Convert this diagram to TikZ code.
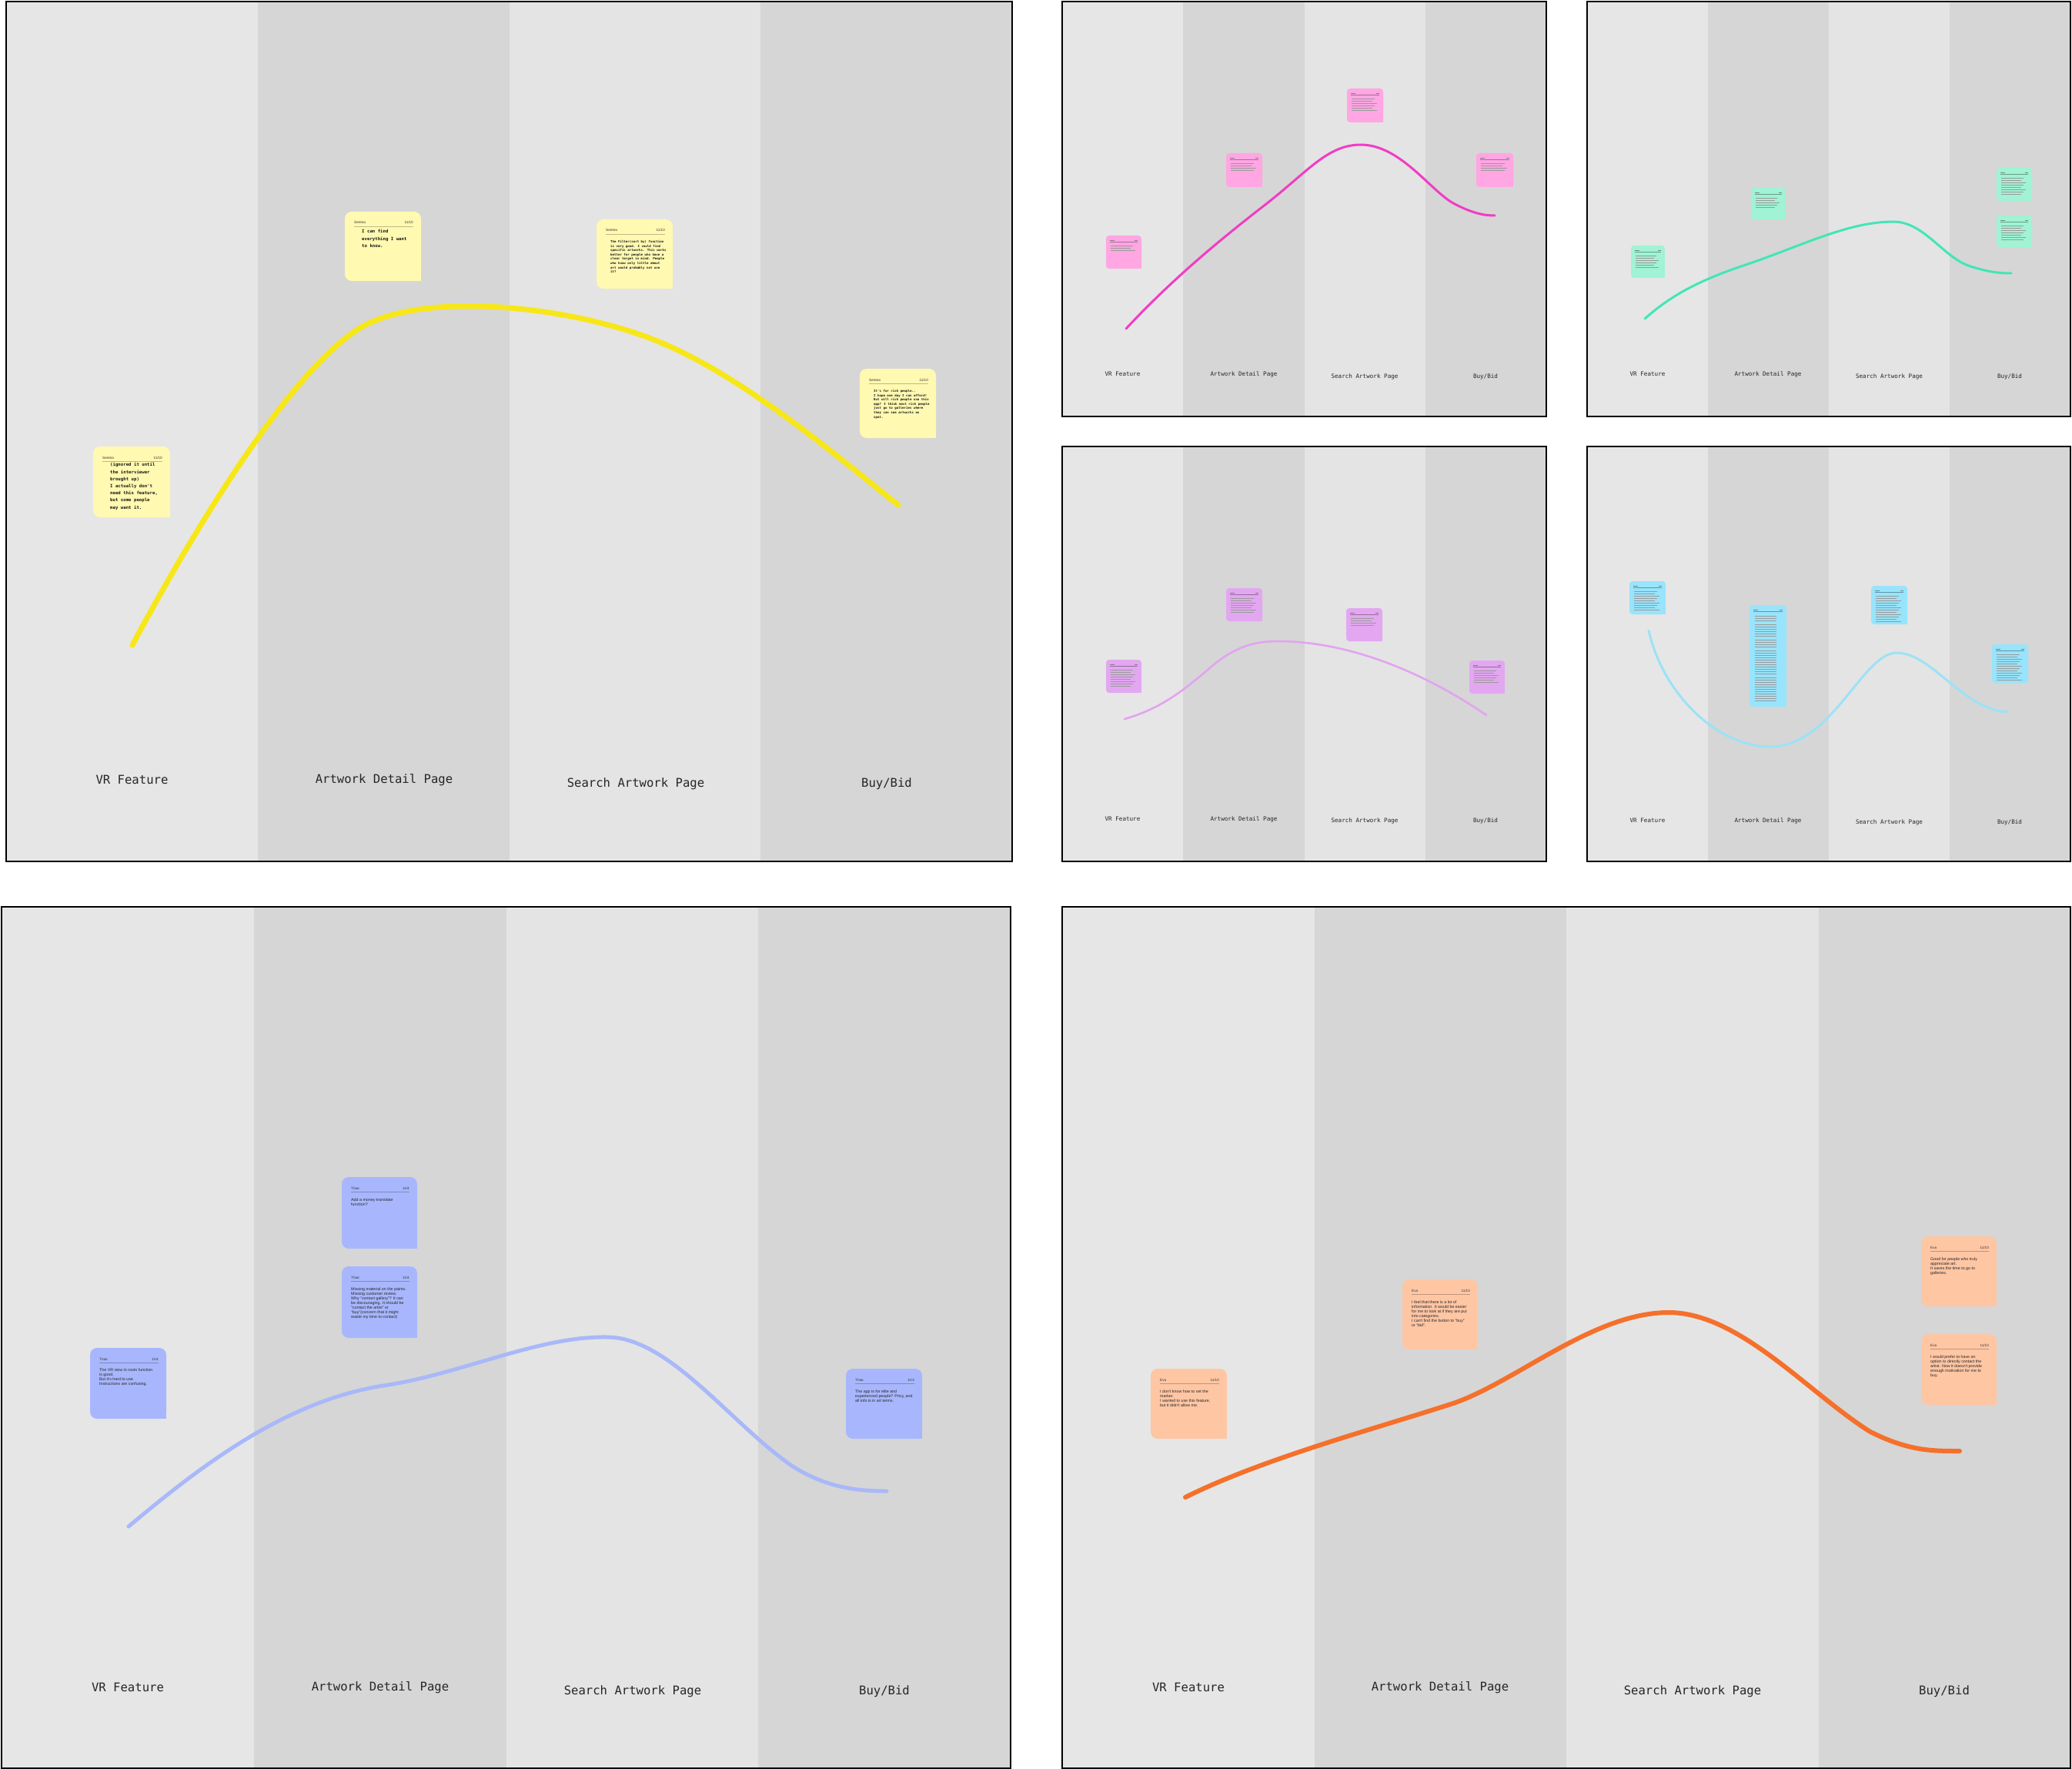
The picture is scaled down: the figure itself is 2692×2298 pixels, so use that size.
\documentclass[tikz,border=0pt]{standalone}
\usepackage{fontspec}
\newfontfamily\labmono{DejaVu Sans Mono}
\newfontfamily\notesans{Liberation Sans}
\definecolor{colA}{HTML}{E6E6E6}
\definecolor{colB}{HTML}{D6D6D6}
\definecolor{colC}{HTML}{E4E4E4}
\definecolor{nYellow}{HTML}{FFF9B1}
\definecolor{nBlue}{HTML}{A8B7FD}
\definecolor{nOrange}{HTML}{FFC6A4}
\definecolor{nPink}{HTML}{FFA6E3}
\definecolor{nGreen}{HTML}{A0F3D5}
\definecolor{nLilac}{HTML}{E3A7F1}
\definecolor{nCyan}{HTML}{98E4FC}
\definecolor{cYellow}{HTML}{F7E718}
\definecolor{cBlue}{HTML}{A9B8F8}
\definecolor{cOrange}{HTML}{F5702B}
\definecolor{cPink}{HTML}{F03DC5}
\definecolor{cGreen}{HTML}{42E6B6}
\definecolor{cLilac}{HTML}{E1A4F0}
\definecolor{cCyan}{HTML}{9CE2F6}
\tikzset{
  biglabel/.style={font=\labmono\fontsize{15.6}{18}\selectfont, text=black!85, inner sep=0pt},
  smalllabel/.style={font=\labmono\fontsize{7.6}{9}\selectfont, text=black!85, inner sep=0pt},
  hdr/.style={font=\notesans\fontsize{4.6}{5.5}\selectfont, text=black!80, inner sep=0pt},
  monobody/.style={font=\labmono\bfseries\fontsize{5.7}{9.2}\selectfont, align=left, inner sep=0pt, text=black!90},
  monosmall/.style={font=\labmono\bfseries\fontsize{4.1}{5.6}\selectfont, align=left, inner sep=0pt, text=black!90},
  sansbody/.style={font=\notesans\fontsize{5.3}{6.1}\selectfont, align=left, inner sep=0pt, text=black!85},
  curve/.style={line cap=round, line join=round},
  txtline/.style={black!40, line width=0.55pt}
}
% panel: x0 y0 x1 y1
\newcommand{\mypanel}[4]{%
  \pgfmathsetmacro{\pcw}{(#3-#1)/4}%
  \fill[colA] (#1,#2) rectangle ({#1+\pcw},#4);
  \fill[colB] ({#1+\pcw},#2) rectangle ({#1+2*\pcw},#4);
  \fill[colC] ({#1+2*\pcw},#2) rectangle ({#1+3*\pcw},#4);
  \fill[colB] ({#1+3*\pcw},#2) rectangle (#3,#4);
  \draw[black, line width=1.6pt] (#1,#2) rectangle (#3,#4);
}
% big note: x y w h color header date name
\newcommand{\bignote}[8]{%
  \fill[#5, rounded corners=9pt] (#1,#2) rectangle ++(#3,#4);
  \fill[#5] ({#1+#3-10},{#2+#4-10}) rectangle ({#1+#3},{#2+#4});
  \node[hdr, anchor=base west] (#8h) at ({#1+12},{#2+16}) {#6};
  \node[hdr, anchor=base east] (#8d) at ({#1+#3-10},{#2+16}) {#7};
  \draw[#5!75!black, line width=0.5pt] ({#1+12},{#2+19}) -- ({#1+#3-10},{#2+19});
}
% small note: x y w h color nlines
\newcommand{\smallnote}[6]{%
  \fill[#5, rounded corners=4pt] (#1,#2) rectangle ++(#3,#4);
  \fill[#5] ({#1+#3-4},{#2+#4-4}) rectangle ({#1+#3},{#2+#4});
  \draw[black!50, line width=0.5pt] ({#1+5},{#2+6}) -- ++(6,0);
  \draw[black!50, line width=0.5pt] ({#1+#3-5},{#2+6}) -- ++(-4,0);
  \draw[#5!65!black, line width=0.4pt] ({#1+5},{#2+8}) -- ({#1+#3-5},{#2+8});
  \foreach \i in {1,...,#6}{
    \draw[txtline] ({#1+6},{#2+10+3*\i}) -- ++({#3-14-mod(\i,3)*3},0);
  }
}
\begin{document}
\begin{tikzpicture}[x=1pt,y=-1pt]
\useasboundingbox (0,0) rectangle (2692,2298);
\fill[white] (0,0) rectangle (2692,2298);

% ================= Panel 1 (Serena, yellow) =================
\mypanel{8}{2}{1315}{1119}
\draw[cYellow, line width=7pt, curve] (172,838) .. controls (252,688) and (373,489) .. (463,429)
  .. controls (538,379) and (721,394) .. (841,438)
  .. controls (961,482) and (1097,601) .. (1167,656);
\bignote{121}{580}{100}{92}{nYellow}{Serena}{11/10}{ys1}
\node[monobody, anchor=north west] (ys1b) at (143,601) {(ignored it until\\the interviewer\\brought up)\\I actually don't\\need this feature,\\but some people\\may want it.};
\bignote{448}{275}{99}{90}{nYellow}{Serena}{11/10}{ys2}
\node[monobody, anchor=north west] (ys2b) at (470,298) {I can find\\everything I want\\to know.};
\bignote{775}{285}{99}{90}{nYellow}{Serena}{11/10}{ys3}
\node[monosmall, anchor=north west] (ys3b) at (793,312) {The Filter(sort by) function\\is very good. I could find\\specific artworks. This works\\better for people who have a\\clear target in mind. People\\who know only little about\\art would probably not use\\it?};
\bignote{1117}{479}{99}{90}{nYellow}{Serena}{11/10}{ys4}
\node[monosmall, anchor=north west] (ys4b) at (1135,506) {It's for rich people..\\I hope one day I can afford!\\But will rich people use this\\app? I think most rich people\\just go to galleries where\\they can see artworks on\\spot.};
\node[biglabel] (p1a) at (171.5,1013) {VR Feature};
\node[biglabel] (p1b) at (499,1013) {Artwork Detail Page};
\node[biglabel] (p1c) at (826,1018) {Search Artwork Page};
\node[biglabel] (p1d) at (1152,1018) {Buy/Bid};

% ================= Panel 2 (Thao, blue) =================
\mypanel{2}{1178}{1313}{2297}
\draw[cBlue, line width=5pt, curve] (167,1983) .. controls (260,1905) and (370,1820) .. (498,1800)
  .. controls (600,1785) and (700,1735) .. (790,1737)
  .. controls (870,1738) and (950,1850) .. (1030,1905)
  .. controls (1075,1933) and (1115,1937) .. (1152,1937);
\bignote{117}{1751}{99}{92}{nBlue}{Thao}{11/4}{tb1}
\node[sansbody, anchor=north west] (tb1b) at (129,1777) {The VR view in room function\\is good.\\But it's hard to use.\\Instructions are confusing.};
\bignote{444}{1529}{98}{93}{nBlue}{Thao}{11/4}{tb2}
\node[sansbody, anchor=north west] (tb2b) at (456,1556) {Add a money translator\\function?};
\bignote{444}{1645}{98}{93}{nBlue}{Thao}{11/4}{tb3}
\node[sansbody, anchor=north west] (tb3b) at (456,1672) {Missing material on the paints.\\Missing customer review.\\Why “contact gallery”? It can\\be discouraging. It should be\\“contact the artist” or\\“buy”(concern that it might\\waste my time to contact)};
\bignote{1099}{1778}{99}{91}{nBlue}{Thao}{11/4}{tb4}
\node[sansbody, anchor=north west] (tb4b) at (1111,1805) {The app is for elite and\\experienced people? Pricy, and\\all info is in art terms.};
\node[biglabel] (p2a) at (166,2192) {VR Feature};
\node[biglabel] (p2b) at (494,2192) {Artwork Detail Page};
\node[biglabel] (p2c) at (822,2197) {Search Artwork Page};
\node[biglabel] (p2d) at (1149,2197) {Buy/Bid};

% ================= Panel 3 (Eva, orange) =================
\mypanel{1380}{1178}{2690}{2297}
\draw[cOrange, line width=6pt, curve] (1540,1945) .. controls (1640,1895) and (1790,1855) .. (1888,1823)
  .. controls (1970,1795) and (2070,1705) .. (2168,1705)
  .. controls (2260,1705) and (2350,1810) .. (2430,1860)
  .. controls (2480,1885) and (2510,1885) .. (2546,1885);
\bignote{1495}{1778}{99}{91}{nOrange}{Eva}{11/10}{eo1}
\node[sansbody, anchor=north west] (eo1b) at (1507,1805) {I don't know how to set the\\marker.\\I wanted to use this feature,\\but it didn't allow me.};
\bignote{1822}{1662}{98}{91}{nOrange}{Eva}{11/10}{eo2}
\node[sansbody, anchor=north west] (eo2b) at (1834,1689) {I feel that there is a lot of\\information. It would be easier\\for me to look at if they are put\\into categories.\\I can't find the button to “buy”\\or “bid”.};
\bignote{2496}{1606}{98}{91}{nOrange}{Eva}{11/10}{eo3}
\node[sansbody, anchor=north west] (eo3b) at (2508,1633) {Good for people who truly\\appreciate art.\\It saves the time to go to\\galleries.};
\bignote{2496}{1733}{98}{92}{nOrange}{Eva}{11/10}{eo4}
\node[sansbody, anchor=north west] (eo4b) at (2508,1760) {I would prefer to have an\\option to directly contact the\\artist. Now it doesn't provide\\enough motivation for me to\\buy.};
\node[biglabel] (p3a) at (1544,2192) {VR Feature};
\node[biglabel] (p3b) at (1871,2192) {Artwork Detail Page};
\node[biglabel] (p3c) at (2199,2197) {Search Artwork Page};
\node[biglabel] (p3d) at (2526,2197) {Buy/Bid};

% ================= Small panel A (pink) =================
\mypanel{1380}{2}{2009}{541}
\draw[cPink, line width=3pt, curve] (1463,427) .. controls (1530,355) and (1600,300) .. (1645,265)
  .. controls (1700,222) and (1725,188) .. (1768,188)
  .. controls (1820,188) and (1860,250) .. (1890,265)
  .. controls (1915,278) and (1930,280) .. (1942,280);
\smallnote{1437}{306}{46}{43}{nPink}{3}
\smallnote{1593}{199}{47}{44}{nPink}{4}
\smallnote{1750}{115}{47}{44}{nPink}{6}
\smallnote{1918}{199}{48}{44}{nPink}{4}
\node[smalllabel] (pAa) at (1458.5,486) {VR Feature};
\node[smalllabel] (pAb) at (1616,486) {Artwork Detail Page};
\node[smalllabel] (pAc) at (1773,489) {Search Artwork Page};
\node[smalllabel] (pAd) at (1930,489) {Buy/Bid};

% ================= Small panel B (green) =================
\mypanel{2062}{2}{2690}{541}
\draw[cGreen, line width=3pt, curve] (2137,414) .. controls (2175,380) and (2215,362) .. (2265,345)
  .. controls (2340,320) and (2400,288) .. (2460,288)
  .. controls (2500,288) and (2525,335) .. (2560,346)
  .. controls (2585,354) and (2600,355) .. (2613,355);
\smallnote{2119}{319}{44}{42}{nGreen}{6}
\smallnote{2275}{244}{45}{41}{nGreen}{5}
\smallnote{2594}{218}{46}{43}{nGreen}{8}
\smallnote{2594}{280}{46}{41}{nGreen}{7}
\node[smalllabel] (pBa) at (2140.5,486) {VR Feature};
\node[smalllabel] (pBb) at (2297,486) {Artwork Detail Page};
\node[smalllabel] (pBc) at (2454.5,489) {Search Artwork Page};
\node[smalllabel] (pBd) at (2611,489) {Buy/Bid};

% ================= Small panel C (lilac) =================
\mypanel{1380}{580}{2009}{1119}
\draw[cLilac, line width=2.6pt, curve] (1461,934) .. controls (1510,920) and (1540,895) .. (1575,865)
  .. controls (1605,840) and (1630,833) .. (1660,833)
  .. controls (1760,833) and (1860,880) .. (1931,929);
\smallnote{1437}{857}{46}{43}{nLilac}{8}
\smallnote{1593}{764}{47}{43}{nLilac}{7}
\smallnote{1749}{790}{47}{43}{nLilac}{4}
\smallnote{1909}{858}{46}{43}{nLilac}{6}
\node[smalllabel] (pCa) at (1458.5,1064) {VR Feature};
\node[smalllabel] (pCb) at (1616,1064) {Artwork Detail Page};
\node[smalllabel] (pCc) at (1773,1066) {Search Artwork Page};
\node[smalllabel] (pCd) at (1930,1066) {Buy/Bid};

% ================= Small panel D (cyan) =================
\mypanel{2062}{580}{2690}{1119}
\draw[cCyan, line width=3pt, curve] (2142,819) .. controls (2160,900) and (2230,970) .. (2300,970)
  .. controls (2380,970) and (2420,848) .. (2464,848)
  .. controls (2510,848) and (2550,922) .. (2608,925);
\smallnote{2117}{755}{47}{43}{nCyan}{9}
\smallnote{2431}{761}{47}{50}{nCyan}{12}
\smallnote{2588}{837}{47}{50}{nCyan}{12}
% tall note
\fill[nCyan, rounded corners=4pt] (2273,786) rectangle (2321,918);
\fill[nCyan] (2317,914) rectangle (2321,918);
\draw[black!50, line width=0.5pt] (2278,792) -- ++(6,0);
\draw[black!50, line width=0.5pt] (2316,792) -- ++(-4,0);
\draw[nCyan!65!black, line width=0.4pt] (2278,794) -- (2316,794);
\foreach \yy in {800,803,806,811,814,817,820,823,826,831,834,837,840,845,848,851,854,857,860,863,866,869,872,875,880,883,886,889,892,895,898,901,904,907,910}{
  \draw[txtline] (2280,\yy) -- ++(28,0);
}
\node[smalllabel] (pDa) at (2140.5,1066) {VR Feature};
\node[smalllabel] (pDb) at (2297,1066) {Artwork Detail Page};
\node[smalllabel] (pDc) at (2454.5,1068) {Search Artwork Page};
\node[smalllabel] (pDd) at (2611,1068) {Buy/Bid};
\end{tikzpicture}
\end{document}
